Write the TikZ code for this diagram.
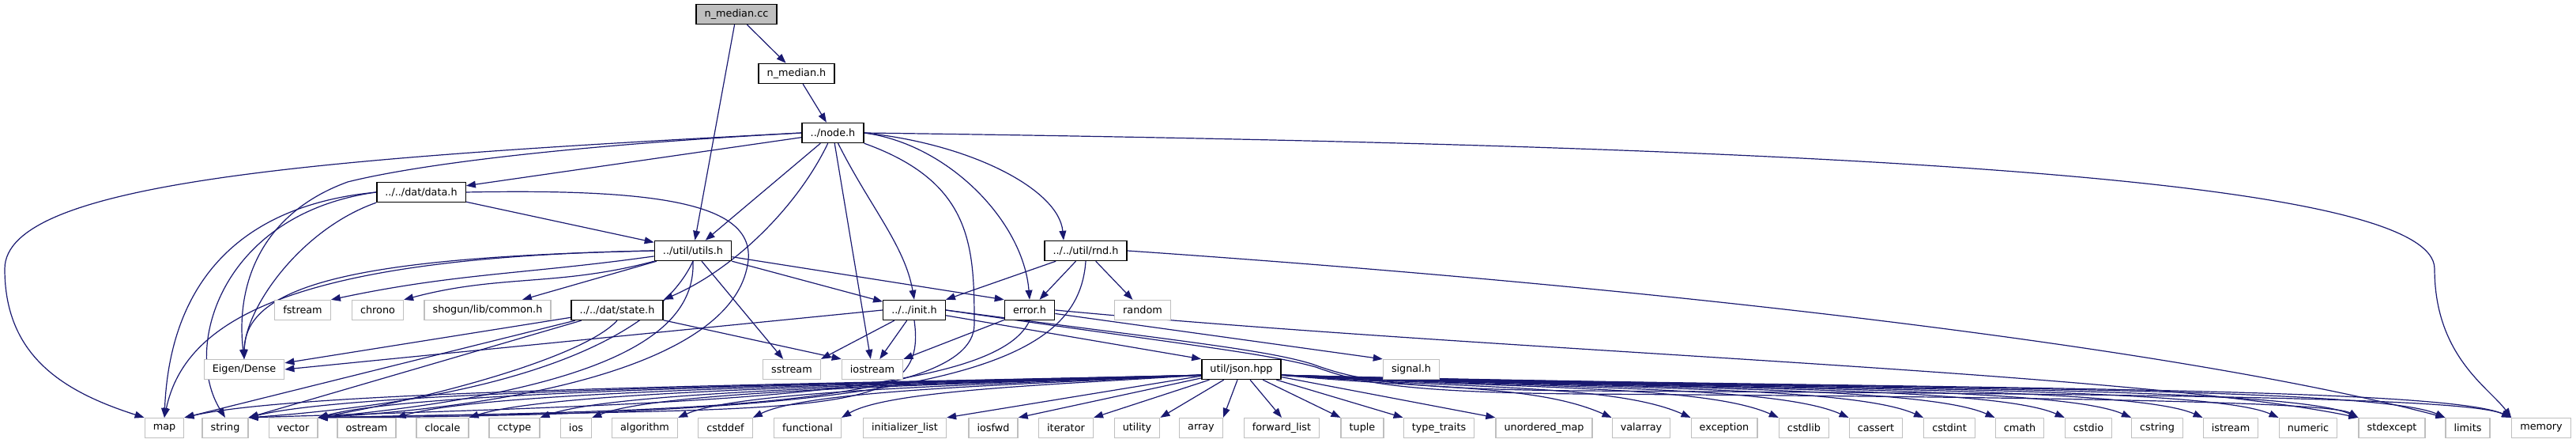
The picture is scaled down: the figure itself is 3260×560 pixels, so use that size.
\documentclass[tikz,border=0pt]{standalone}
\usepackage{fontspec}
\setmainfont{DejaVu Sans}
\usetikzlibrary{arrows.meta,backgrounds}

\definecolor{edgeblue}{HTML}{191970}
\definecolor{boxgray}{HTML}{BFBFBF}

\begin{document}
\begin{tikzpicture}[x=0.5pt, y=0.5pt,
    file/.style={draw, minimum height=12.5pt, inner xsep=5.3pt, inner ysep=0pt, fill=white, font=\fontsize{6.4}{7.7}\selectfont},
    hdr/.style={file, draw=black, line width=0.7pt},
    sys/.style={file, draw=boxgray, line width=0.6pt},
    root/.style={hdr, fill=boxgray},
    dep/.style={-{Triangle[length=6pt,width=4.4pt]}, draw=edgeblue, line width=0.6pt}
]
\useasboundingbox (0,0) rectangle (3260,560);

% project files
\node[root] (cc) at (932,542) {n\_median.cc};
\node[hdr] (nh) at (1008,467) {n\_median.h};
\node[hdr] (nodeh) at (1054,392) {../node.h};
\node[hdr] (data) at (533,317) {../../dat/data.h};
\node[hdr] (utils) at (877,243) {../util/utils.h};
\node[hdr] (rnd) at (1374,243) {../../util/rnd.h};
\node[hdr] (state) at (781,168) {../../dat/state.h};
\node[hdr] (init) at (1157,168) {../../init.h};
\node[hdr] (error) at (1303,168) {error.h};
\node[hdr] (json) at (1571,93) {util/json.hpp};

% system headers
\node[sys] (fstream) at (383,168) {fstream};
\node[sys] (chrono) at (478,168) {chrono};
\node[sys] (common) at (617,168) {shogun/lib/common.h};
\node[sys] (random) at (1446,168) {random};
\node[sys] (eigen) at (309,93) {Eigen/Dense};
\node[sys] (sstream) at (1002,93) {sstream};
\node[sys] (iostream) at (1104,93) {iostream};
\node[sys] (signal) at (1786,93) {signal.h};

\node[sys] (map) at (208,19) {map};
\node[sys] (string) at (285,19) {string};
\node[sys] (vector) at (371,19) {vector};
\node[sys] (ostream) at (464,19) {ostream};
\node[sys] (clocale) at (560,19) {clocale};
\node[sys] (cctype) at (651,19) {cctype};
\node[sys] (ios) at (729,19) {ios};
\node[sys] (algorithm) at (816,19) {algorithm};
\node[sys] (cstddef) at (918,19) {cstddef};
\node[sys] (functional) at (1022,19) {functional};
\node[sys] (initlist) at (1145,19) {initializer\_list};
\node[sys] (iosfwd) at (1257,19) {iosfwd};
\node[sys] (iterator) at (1349,19) {iterator};
\node[sys] (utility) at (1439,19) {utility};
\node[sys] (array) at (1520,19) {array};
\node[sys] (fwdlist) at (1622,19) {forward\_list};
\node[sys] (tuple) at (1724,19) {tuple};
\node[sys] (typetraits) at (1821,19) {type\_traits};
\node[sys] (umap) at (1954,19) {unordered\_map};
\node[sys] (valarray) at (2077,19) {valarray};
\node[sys] (exception) at (2182,19) {exception};
\node[sys] (cstdlib) at (2283,19) {cstdlib};
\node[sys] (cassert) at (2374,19) {cassert};
\node[sys] (cstdint) at (2467,19) {cstdint};
\node[sys] (cmath) at (2556,19) {cmath};
\node[sys] (cstdio) at (2643,19) {cstdio};
\node[sys] (cstring) at (2730,19) {cstring};
\node[sys] (istream) at (2823,19) {istream};
\node[sys] (numeric) at (2921,19) {numeric};
\node[sys] (stdexcept) at (3027,19) {stdexcept};
\node[sys] (limits) at (3123,19) {limits};
\node[sys] (memory) at (3216,19) {memory};

\begin{scope}[on background layer]
% n_median
\draw[dep] (cc) -- (nh);
\draw[dep] (cc) -- (utils);
\draw[dep] (nh) -- (nodeh);

% node.h
\draw[dep] (nodeh.west) .. controls (400,360) and (6,330) .. (6,220) .. controls (6,110) and (80,65) .. (map.north west);
\draw[dep] (nodeh.west) .. controls (700,375) and (520,350) .. (440,330) .. controls (330,290) and (298,200) .. (eigen.north);
\draw[dep] (nodeh) -- (data);
\draw[dep] (nodeh) -- (utils);
\draw[dep] (nodeh) .. controls (1010,300) and (930,220) .. (state.north east);
\draw[dep] (nodeh) -- (iostream);
\draw[dep] (nodeh) .. controls (1100,300) and (1145,250) .. (init.north);
\draw[dep] (nodeh.south east) .. controls (1230,330) and (1233,250) .. (1233,150) .. controls (1233,40) and (800,40) .. (vector.north east);
\draw[dep] (nodeh.east) .. controls (1200,378) and (1295,280) .. (error.north);
\draw[dep] (nodeh.east) .. controls (1230,378) and (1340,320) .. ([xshift=-14pt]rnd.north);
\draw[dep] (nodeh.east) .. controls (2400,375) and (3081,330) .. (3081,220) .. controls (3081,110) and (3150,70) .. (memory.north west);

% data.h
\draw[dep] (data) -- (utils);
\draw[dep] (data.west) .. controls (300,300) and (215,200) .. (map.north);
\draw[dep] (data.west) .. controls (280,290) and (230,120) .. (string.north);
\draw[dep] (data.south west) .. controls (380,270) and (310,170) .. (eigen.north);
\draw[dep] (data.east) .. controls (850,322) and (965,300) .. (945,220) .. controls (920,110) and (700,50) .. (vector.north east);

% utils.h
\draw[dep] (utils) to[out=188,in=12] (fstream.north east);
\draw[dep] (utils) to[out=195,in=15] (chrono.north east);
\draw[dep] (utils) -- ([xshift=22pt]common.north);
\draw[dep] (utils.west) .. controls (380,235) and (235,160) .. (map.north);
\draw[dep] (utils.west) .. controls (450,235) and (310,200) .. (eigen.north);
\draw[dep] (utils) -- (sstream);
\draw[dep] (utils) -- (init);
\draw[dep] (utils) -- (error.north west);
\draw[dep] (utils.south) .. controls (880,150) and (800,70) .. (vector.north east);
\draw[dep] (utils.south) .. controls (840,150) and (700,60) .. (string.north east);

% state.h
\draw[dep] (state) -- (eigen);
\draw[dep] (state) -- (map.north east);
\draw[dep] (state) -- (string.north east);
\draw[dep] (state.south) .. controls (740,110) and (560,60) .. (vector.north east);
\draw[dep] (state) -- (iostream.north west);

% init.h
\draw[dep] (init.west) -- (eigen.east);
\draw[dep] (init) -- (sstream.north east);
\draw[dep] (init) -- (iostream);
\draw[dep] (init) -- (json.north west);
\draw[dep] (init.south) .. controls (1175,30) and (1050,45) .. (vector.north east);
\draw[dep] (init.east) .. controls (1500,128) and (1600,118) .. (1660,100) .. controls (1710,82) and (1760,68) .. (2000,66) .. controls (2700,62) and (3120,58) .. (memory.north west);
\draw[dep] (init.east) .. controls (1500,124) and (1600,114) .. (1665,96) .. controls (1715,78) and (1765,64) .. (2000,62) .. controls (2600,58) and (2950,52) .. (stdexcept.north west);

% error.h
\draw[dep] (error) -- (iostream.north east);
\draw[dep] (error) -- (signal.north west);
\draw[dep] (error.south) .. controls (1260,60) and (900,50) .. (string.north east);
\draw[dep] (error.east) .. controls (1900,115) and (2700,90) .. (stdexcept.north west);

% rnd.h
\draw[dep] (rnd) -- (init.north east);
\draw[dep] (rnd) -- (error);
\draw[dep] (rnd) -- (random);
\draw[dep] (rnd.east) .. controls (2200,190) and (2800,110) .. (limits.north west);
\draw[dep] (rnd.south) .. controls (1365,100) and (1200,35) .. (vector.north east);

% json.hpp
\foreach \t/\a/\b in {map/515/150, string/480/140, vector/450/130, ostream/410/120, clocale/370/110, cctype/335/100, ios/310/90, algorithm/265/80, cstddef/225/70, functional/180/60}
  \draw[dep] ([yshift=3pt]json.south west) .. controls +(-\a,-12) and +(\b,35) .. (\t.north east);
\foreach \t in {initlist, iosfwd, iterator, utility, array}
  \draw[dep] (json) -- (\t.north east);
\draw[dep] (json) -- (fwdlist.north);
\foreach \t in {tuple, typetraits, umap}
  \draw[dep] (json) -- (\t.north west);
\foreach \t/\a in {valarray/190, exception/240, cstdlib/290, cassert/330, cstdint/375, cmath/415, cstdio/455, cstring/495, istream/535, numeric/580, stdexcept/625, limits/675, memory/715}
  \draw[dep] ([yshift=3pt]json.south east) .. controls +(\a,-18) and +(-95,42) .. (\t.north west);
\end{scope}
\end{tikzpicture}
\end{document}
